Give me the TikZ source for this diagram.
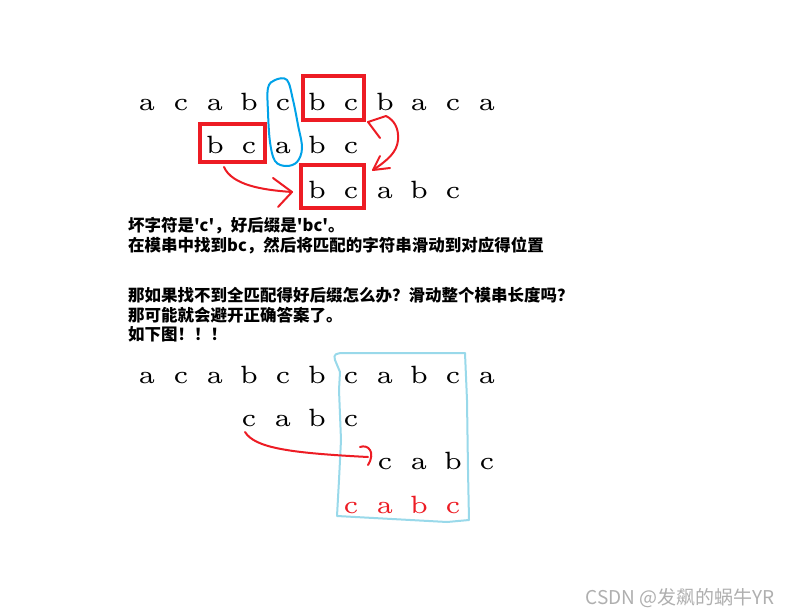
\documentclass[tikz,border=0pt]{standalone}
\usepackage{fontspec}
\newfontfamily\cjk{Noto Sans CJK SC}
\newfontfamily\lmheavy[Extension=.otf]{lmroman5-regular}
\definecolor{pred}{RGB}{237,28,36}
\definecolor{pblue}{RGB}{0,162,232}
\definecolor{plight}{RGB}{153,217,234}
\definecolor{wmgray}{RGB}{175,175,175}
\begin{document}
\begin{tikzpicture}[x=1pt,y=-1pt,
  ch/.style={anchor=base,inner sep=0pt,font=\lmheavy\fontsize{25}{30}\selectfont},
  redch/.style={ch,text=pred},
  redbox/.style={draw=pred,line width=4pt,inner sep=0pt,rectangle},
  redpen/.style={draw=pred,line width=2pt,line cap=round,line join=round},
  bluepen/.style={draw=pblue,line width=2pt},
  lightpen/.style={draw=plight,line width=2pt,line join=round},
  txt/.style={anchor=base west,inner sep=0pt,font=\cjk\bfseries\fontsize{16.5}{18}\selectfont}]
\useasboundingbox[fill=white] (0,0) rectangle (788,616);

% ---- top example ----
\foreach \l [count=\i from 0] in {a,c,a,b,c,b,c,b,a,c,a}
  \node[ch] (t\i) at (147+34*\i,110) {\l};
\foreach \l [count=\i from 2] in {b,c,a,b,c}
  \node[ch] (m\i) at (147+34*\i,153) {\l};
\foreach \l [count=\i from 5] in {b,c,a,b,c}
  \node[ch] (s\i) at (147+34*\i,198) {\l};

\node[redbox,minimum width=61pt,minimum height=44pt] (box1) at (333.5,98) {};
\node[redbox,minimum width=65pt,minimum height=38pt] (box2) at (232.5,143) {};
\node[redbox,minimum width=63pt,minimum height=43pt] (box3) at (332.5,186.5) {};

\draw[bluepen] plot[smooth cycle,tension=0.6] coordinates
  {(268,88) (275,80) (287,80) (293,100) (298,125) (302,148) (297,162) (286,166) (275,161) (270,142) (268,112)};

% arrow box2 -> box3
\coordinate (a1s) at (224,167);
\coordinate (a1e) at (292,192);
\draw[redpen] (a1s) .. controls (232,185) and (262,190) .. (a1e);
\draw[redpen] (273,178) -- (a1e) -- (278,207);

% double arrow box1 <-> box3
\coordinate (a2s) at (368,122);
\coordinate (a2e) at (373,170);
\draw[redpen] (380,138) -- (a2s) -- (386,116) .. controls (394,120) and (399,128) .. (398,140)
  .. controls (397,152) and (388,160) .. (a2e);
\draw[redpen] (380,156) -- (a2e) -- (390,168);

% ---- text ----
\node[txt] (l1) at (128,231) {坏字符是'c'，好后缀是'bc'。};
\node[txt] (l2) at (128,251) {在模串中找到bc，然后将匹配的字符串滑动到对应得位置};
\node[txt] (l3) at (128,301) {那如果找不到全匹配得好后缀怎么办？滑动整个模串长度吗？};
\node[txt] (l4) at (128,321) {那可能就会避开正确答案了。};
\node[txt] (l5) at (128,340) {如下图！！！};

% ---- bottom example ----
\foreach \l [count=\i from 0] in {a,c,a,b,c,b,c,a,b,c,a}
  \node[ch] (u\i) at (147+34*\i,383) {\l};
\foreach \l [count=\i from 3] in {c,a,b,c}
  \node[ch] (v\i) at (147+34*\i,426) {\l};
\foreach \l [count=\i from 7] in {c,a,b,c}
  \node[ch] (w\i) at (147+34*\i,469) {\l};
\foreach \l [count=\i from 6] in {c,a,b,c}
  \node[redch] (r\i) at (147+34*\i,513) {\l};

\draw[lightpen] (335,360) .. controls (333,354) and (336,353) .. (345,353)
  -- (465,353) -- (467,400) -- (468,470) -- (469,520) -- (447,522)
  -- (337,516) -- (339,480) -- (341,440) -- (339,390) -- (340,372) -- cycle;

\coordinate (a3s) at (245,432);
\coordinate (a3e) at (368,457);
\draw[redpen] (a3s) .. controls (255,448) and (290,453) .. (a3e);
\draw[redpen] (360,447) .. controls (368,444) and (376,452) .. (368,465);

% ---- watermark ----
\node[anchor=east,inner sep=0pt,text=wmgray,font=\cjk\fontsize{19}{21}\selectfont] (wm) at (775,598) {CSDN @发飙的蜗牛YR};
\end{tikzpicture}
\end{document}
